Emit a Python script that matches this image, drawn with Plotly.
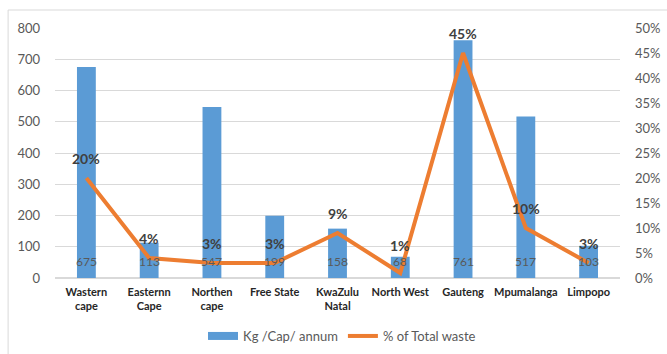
import plotly.graph_objects as go

categories = ["Wastern<br>cape", "Easternn<br>Cape", "Northen<br>cape", "Free State",
              "KwaZulu<br>Natal", "North West", "Gauteng", "Mpumalanga", "Limpopo"]
kg_per_cap = [675, 113, 547, 199, 158, 68, 761, 517, 103]
pct_total = [0.20, 0.04, 0.03, 0.03, 0.09, 0.01, 0.45, 0.10, 0.03]
pct_labels = ["20%", "4%", "3%", "3%", "9%", "1%", "45%", "10%", "3%"]

FONT = "Lato"
GRAY = "#595959"
BLUE = "#5B9BD5"
ORANGE = "#ED7D31"

fig = go.Figure()
fig.add_trace(go.Bar(
    x=categories, y=kg_per_cap, name="Kg /Cap/ annum",
    marker=dict(color=BLUE, line=dict(width=0)), width=0.3,
    yaxis="y", showlegend=False,
))
# legend entry drawn as a wide block, like the reference
fig.add_trace(go.Scatter(
    x=[None], y=[None], name="Kg /Cap/ annum", mode="lines",
    line=dict(color=BLUE, width=8), yaxis="y",
))
fig.add_trace(go.Scatter(
    x=categories, y=pct_total, name="% of Total waste", mode="lines",
    line=dict(color=ORANGE, width=4), yaxis="y2",
))

annotations = []
for c, v in zip(categories, kg_per_cap):
    annotations.append(dict(x=c, y=0, xref="x", yref="y", text=str(v), showarrow=False,
                            yanchor="bottom", yshift=7,
                            font=dict(family=FONT, size=12, color=GRAY)))
for c, v, t in zip(categories, pct_total, pct_labels):
    shift = 28 if v < 0.02 else 20
    annotations.append(dict(x=c, y=v, xref="x", yref="y2", text="<b>" + t + "</b>", showarrow=False,
                            yanchor="middle", yshift=shift,
                            font=dict(family=FONT, size=14, color="#404040")))

fig.update_layout(
    width=667, height=354,
    margin=dict(l=55, r=47, t=28, b=76, autoexpand=False),
    paper_bgcolor="white", plot_bgcolor="white",
    font=dict(family=FONT, color=GRAY),
    xaxis=dict(showgrid=False, showline=False, ticks="", automargin=False,
               tickfont=dict(family=FONT, size=11, color="#262626", weight="bold"),
               ticklabelstandoff=6),
    yaxis=dict(range=[0, 800], dtick=100, showgrid=True, gridcolor="#D9D9D9", gridwidth=1,
               zeroline=True, zerolinecolor="#D9D9D9", ticks="", automargin=False,
               tickfont=dict(family=FONT, size=13, color=GRAY), ticklabelstandoff=14),
    yaxis2=dict(range=[0, 0.5], dtick=0.05, tickformat=".0%", overlaying="y", side="right",
                showgrid=False, zeroline=False, ticks="", automargin=False,
                tickfont=dict(family=FONT, size=13, color=GRAY), ticklabelstandoff=14),
    legend=dict(orientation="h", x=0.508, xanchor="center", y=-0.232, yanchor="middle",
                font=dict(family=FONT, size=13, color=GRAY)),
    showlegend=True,
    annotations=annotations,
    shapes=[dict(type="rect", xref="paper", yref="paper",
                 x0=-0.083, x1=1.2, y0=-0.5, y1=1.072,
                 line=dict(color="#D9D9D9", width=1), fillcolor="rgba(0,0,0,0)", layer="below")],
)

fig.write_html("out.html")
